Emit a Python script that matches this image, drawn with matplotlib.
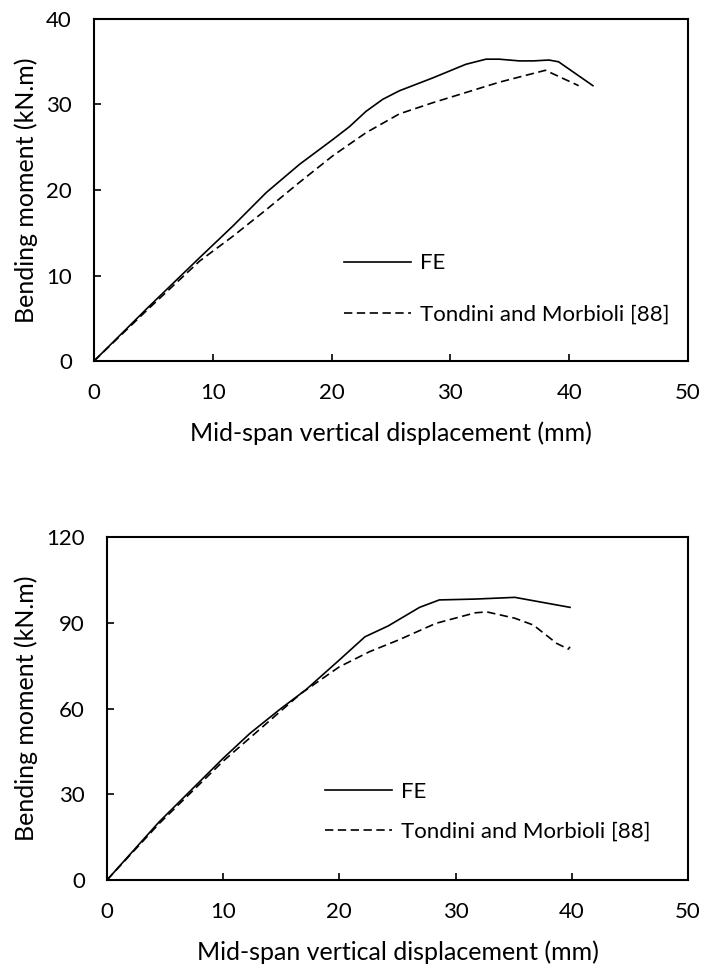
import matplotlib
matplotlib.use("Agg")
import matplotlib.pyplot as plt

plt.rcParams['font.family'] = ['Lato', 'DejaVu Sans']

# top chart: specimen 1
fe1_x = [0, 4.5, 8.9, 11.7, 14.5, 17.3, 20.1, 21.5, 22.9, 24.3, 25.7, 28.5, 31.3, 33.0, 34.1, 35.8, 37.0, 38.3, 39.1, 42.0]
fe1_y = [0, 6.2, 12.1, 15.8, 19.7, 23.0, 25.9, 27.4, 29.2, 30.6, 31.6, 33.1, 34.7, 35.3, 35.3, 35.1, 35.1, 35.2, 35.0, 32.2]
exp1_x = [0, 4.5, 8.9, 11.7, 14.5, 17.3, 20.1, 22.9, 25.7, 28.5, 31.3, 34.1, 36.6, 38.0, 40.8]
exp1_y = [0, 6.0, 11.7, 14.6, 17.7, 20.9, 24.0, 26.7, 28.9, 30.2, 31.4, 32.6, 33.5, 34.0, 32.2]

# bottom chart: specimen 2
fe2_x = [0, 4.5, 10, 12.3, 15.0, 17.1, 20.0, 22.2, 24.2, 26.9, 28.6, 31.7, 35.1, 39.85]
fe2_y = [0, 20.4, 42.6, 51.3, 60.1, 66.5, 77.0, 85.1, 88.9, 95.4, 98.0, 98.3, 98.9, 95.4]
exp2_x = [0, 4.5, 10, 16.7, 20, 22.6, 25.1, 28.3, 31.7, 32.7, 35.1, 36.7, 38.7, 39.7, 39.85]
exp2_y = [0, 19.8, 41.6, 65.3, 74.6, 79.9, 84.0, 89.8, 93.5, 93.8, 91.6, 89.2, 82.8, 80.8, 81.6]

xlabel = 'Mid-span vertical displacement (mm)'
ylabel = 'Bending moment (kN.m)'
fs = 16
lfs = 18

fig = plt.figure(figsize=(7.02, 9.64), dpi=100)
ax1 = fig.add_axes([0.1339, 0.6255, 0.980 - 0.1339, 0.9803 - 0.6255])
ax2 = fig.add_axes([0.1524, 0.0871, 0.980 - 0.1524, 0.4429 - 0.0871])


def style_axes(ax, ymax, ystep, spacing, anchor):
    ax.set_xlim(0, 50)
    ax.set_ylim(0, ymax)
    ax.set_xticks(range(0, 51, 10))
    ax.set_yticks(range(0, ymax + 1, ystep))
    ax.tick_params(direction='in', length=5, width=1.2, labelsize=fs, pad=16)
    for s in ax.spines.values():
        s.set_linewidth(1.5)
    ax.set_xlabel(xlabel, fontsize=lfs, labelpad=13)
    ax.set_ylabel(ylabel, fontsize=lfs, labelpad=6)
    ax.legend(loc='lower right', bbox_to_anchor=anchor, frameon=False,
              fontsize=fs, handlelength=3.0, handletextpad=0.4, labelspacing=spacing)


dash = (0, (5, 2.7))

ax1.plot(fe1_x, fe1_y, color='black', lw=1.2, label='FE')
ax1.plot(exp1_x, exp1_y, color='black', lw=1.2, ls=dash, label='Tondini and Morbioli [88]')
style_axes(ax1, 40, 10, 1.4, (1.002, 0.048))

ax2.plot(fe2_x, fe2_y, color='black', lw=1.2, label='FE')
ax2.plot(exp2_x, exp2_y, color='black', lw=1.2, ls=dash, label='Tondini and Morbioli [88]')
style_axes(ax2, 120, 30, 0.9, (0.97, 0.054))

fig.savefig('out.png', dpi=100)
